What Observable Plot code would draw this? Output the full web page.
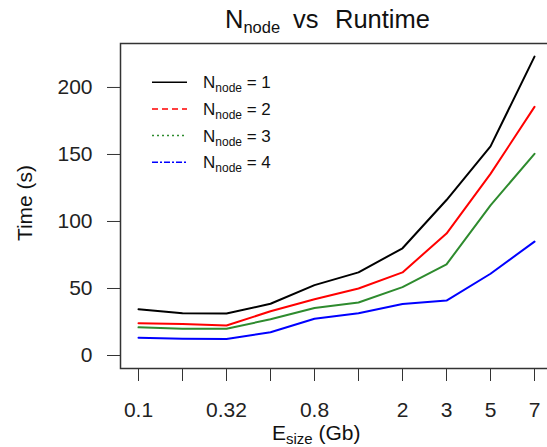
<!DOCTYPE html>
<html><head><meta charset="utf-8">
<script src="https://cdn.jsdelivr.net/npm/d3@7"></script>
<script src="https://cdn.jsdelivr.net/npm/@observablehq/plot@0.6"></script>
<style>
html,body{margin:0;padding:0;overflow:hidden;background:#fff;}
#chart{width:547px;height:447px;overflow:hidden;}
</style></head><body><div id="chart"></div>
<script>
const xTickLabels = ["0.1","","0.32","","0.8","","2","3","5","7"];
const nodes = [1,2,3,4];
const time1 = [34.5,31.5,31.3,38.6,52.5,62,80,116,156,223];
const time2 = [24,23.5,22.4,33,42,50,62,91,135.5,185.5];
const time3 = [21,20,20,27,35.5,39.5,51,68,112,150.5];
const time4 = [13.2,12.5,12.3,17.4,27.4,31.5,38.5,41,61,85];
const yTicks = [0,50,100,150,200];
const colors = ["#000000","#FF0000","#2E8B2E","#0000FF"];
const dashes = [null,"6,4","2,3","6,2,2,2"];

const series = [time1,time2,time3,time4];
const data = series.flatMap((s,k)=> s.map((v,i)=>({i, t:v, n:nodes[k]})));

const FONT = "'Liberation Sans', Arial, sans-serif";
const plot = Plot.plot({
  width: 555, height: 447,
  marginLeft: 120, marginRight: 4, marginTop: 43, marginBottom: 79,
  style: {fontFamily: FONT, fontSize: "21px", color: "#222", background: "#fff"},
  x: {type: "point", domain: d3.range(xTickLabels.length), range: [136, 535], padding: 0},
  y: {domain: [-9.7, 232.8]},
  color: {domain: nodes, range: colors},
  marks: [
    Plot.frame({stroke: "#333", strokeWidth: 1.5}),
    Plot.axisY({ticks: yTicks, tickSize: 13, tickPadding: 15, label: null, fontSize: 21, stroke: "#333"}),
    Plot.axisX({tickSize: 13, tickPadding: 21, tickFormat: i => xTickLabels[i], label: null, fontSize: 21, stroke: "#333"}),
    Plot.line(data, {x: "i", y: "t", stroke: "n", z: "n", strokeWidth: 2})
  ]
});
plot.style.maxWidth = "none";
plot.style.width = "555px";
plot.style.height = "447px";
document.getElementById("chart").appendChild(plot);

const svg = d3.select(plot);
// Title
const tg = svg.append("g").attr("font-family", FONT).attr("fill", "#111").attr("text-anchor", "start");
const t1 = tg.append("text").attr("x", 225).attr("y", 28.3).attr("font-size", 25.5);
t1.append("tspan").text("N");
t1.append("tspan").attr("font-size", 16.5).attr("dy", 5).text("node");
tg.append("text").attr("x", 293).attr("y", 28.3).attr("font-size", 25.5).text("vs");
tg.append("text").attr("x", 335).attr("y", 28.3).attr("font-size", 25.5).text("Runtime");

// Y label
svg.append("text").attr("transform", "translate(31.5,203) rotate(-90)").attr("text-anchor", "middle")
  .attr("font-family", FONT).attr("font-size", 21).attr("fill", "#111").text("Time (s)");

// X label
const xl = svg.append("text").attr("x", 272).attr("y", 440).attr("text-anchor", "start")
  .attr("font-family", FONT).attr("font-size", 21).attr("fill", "#111");
xl.append("tspan").text("E");
xl.append("tspan").attr("font-size", 15).attr("dy", 4).text("size");
xl.append("tspan").attr("dy", -4).text("\u00a0(Gb)");

// Legend
const lg = svg.append("g").attr("text-anchor", "start");
nodes.forEach((n, k) => {
  const yy = 82.3 + k * 26.65;
  lg.append("line").attr("x1", 152).attr("x2", 187).attr("y1", yy).attr("y2", yy)
    .attr("stroke", colors[k]).attr("stroke-width", 1.5)
    .attr("stroke-dasharray", dashes[k]);
  const t = lg.append("text").attr("x", 203).attr("y", yy + 6).attr("font-family", FONT)
    .attr("font-size", 17).attr("fill", "#111");
  t.append("tspan").text("N");
  t.append("tspan").attr("font-size", 12).attr("dy", 4).text("node");
  t.append("tspan").attr("dy", -4).text(" = " + n);
});
</script>
</body></html>
